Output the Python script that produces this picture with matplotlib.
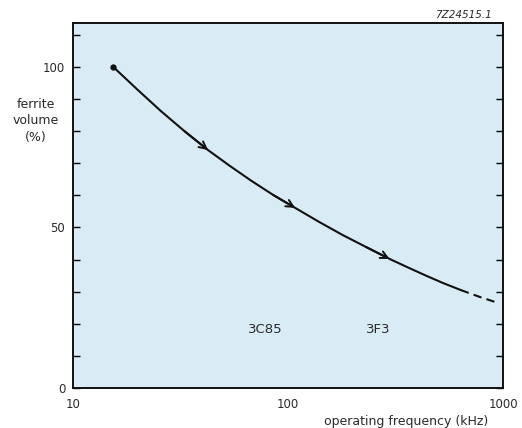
import numpy as np
import matplotlib ; matplotlib.use('Agg')
from matplotlib import pyplot as plt

# Data (frequency in kHz, ferrite volume in %)
freq_solid = [15.4, 19.9, 25.6, 33.0, 42.5, 53.6, 67.7, 85.5, 108, 139, 179, 231, 297, 360, 435, 526, 637]
vol_solid = [100, 93.0, 86.3, 80.0, 74.1, 69.2, 64.5, 60.1, 56.1, 51.8, 47.7, 43.9, 40.2, 37.6, 35.1, 32.7, 30.5]
freq_dash = [637, 777, 948]
vol_dash = [30.5, 28.4, 26.5]
arrow_idx = [4, 8, 12]          # points on the solid curve carrying an arrowhead
materials = ['3C85', '3F3']
material_freq = [78, 262]
material_vol = [18.3, 18.3]
xticks = [10, 100, 1000]
yticks = [0, 50, 100]

plt.rcParams['font.family'] = ['DejaVu Sans']
txt = '#2a2a2a'

fig = plt.figure(figsize=(5.22, 4.28), dpi=100)
fig.patch.set_facecolor('white')
ax = fig.add_axes([73/522, 1-388/428, 430/522, 365/428])
ax.set_facecolor('#d9ebf5')

ax.plot(freq_solid, vol_solid, color='#111111', lw=1.5, solid_capstyle='round',
        solid_joinstyle='round')
ax.plot(freq_dash, vol_dash, color='#111111', lw=1.5, ls=(0, (4, 2.5)))
ax.plot(freq_solid[0], vol_solid[0], 'o', color='#111111', ms=3.5)

for i in arrow_idx:
    ax.annotate('', xy=(freq_solid[i], vol_solid[i]),
                xytext=(freq_solid[i-1], vol_solid[i-1]),
                arrowprops=dict(arrowstyle='->', color='#111111', lw=1.4,
                                mutation_scale=13, shrinkA=0, shrinkB=0))

for name, f, v in zip(materials, material_freq, material_vol):
    ax.text(f, v, name, ha='center', va='center', fontsize=9.5, color=txt)

ax.set_xscale('log')
ax.set_xlim(10, 1000)
ax.set_ylim(0, 113.7)

ax.set_xticks(xticks)
ax.set_xticklabels([str(t) for t in xticks])
ax.xaxis.set_minor_locator(matplotlib.ticker.NullLocator())
ax.tick_params(axis='x', length=0, pad=7, labelsize=8.5, labelcolor=txt)

ax.set_yticks(yticks)
ax.set_yticks(np.arange(0, 111, 10), minor=True)
ax.tick_params(axis='y', which='both', direction='in', length=5, width=1,
               left=True, right=True, labelsize=8.5, labelcolor=txt, pad=5.5)

for s in ax.spines.values():
    s.set_linewidth(1.4)
    s.set_color('#111111')

fig.text(36/522, 1-121/428, 'ferrite\nvolume\n(%)', ha='center', va='center',
         fontsize=9, color=txt, linespacing=1.3)
fig.text(406/522, 1-421/428, 'operating frequency (kHz)', ha='center',
         va='center', fontsize=9, color=txt)
fig.text(463/522, 1-15/428, '7Z24515.1', ha='center', va='center',
         fontsize=7.5, style='italic', color=txt)

plt.savefig('out.png', dpi=100)
